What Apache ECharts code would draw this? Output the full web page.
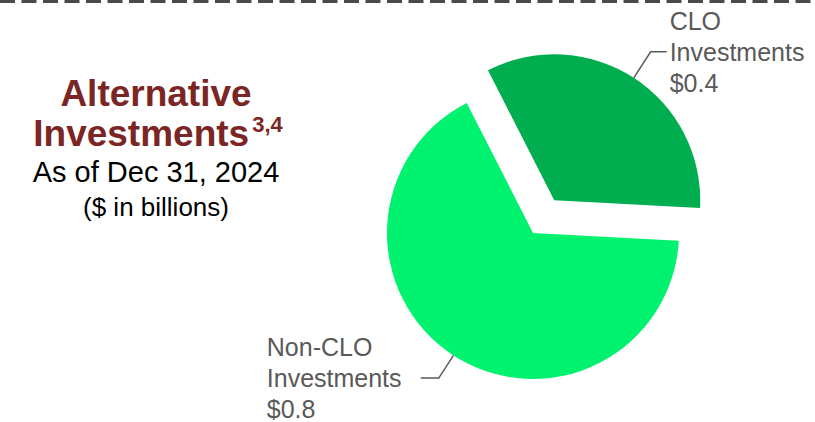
<!DOCTYPE html>
<html>
<head>
<meta charset="utf-8">
<script src="https://cdn.jsdelivr.net/npm/echarts@6/dist/echarts.min.js"></script>
<style>
  html, body { margin: 0; padding: 0; background: #fff; }
  #pieChart { width: 815px; height: 422px; }
</style>
</head>
<body>
<div id="pieChart"></div>
<script>
// data
const categories = ['CLO\nInvestments', 'Non-CLO\nInvestments']
const values = [0.4, 0.8]
const sliceColors = ['#00ae4f', '#00f26f']

const chart = echarts.init(document.getElementById('pieChart'), null, { renderer: 'svg' })

const titleFont = 'bold 37px "Liberation Sans", Arial'

const option = {
  animation: false,
  graphic: [
    {
      // dashed divider at the top
      type: 'line',
      shape: { x1: 0, y1: 1.5, x2: 815, y2: 1.5 },
      style: { stroke: '#4a4a4a', lineWidth: 3, lineDash: [15, 6.5] }
    },
    {
      type: 'text',
      x: 156,
      y: 93,
      style: {
        text: 'Alternative',
        align: 'center',
        verticalAlign: 'middle',
        font: titleFont,
        fill: '#7b2525'
      }
    },
    {
      // second title line with superscript footnote marks
      type: 'text',
      x: 158,
      y: 133,
      style: {
        text: '{t|Investments}{s|3,4}',
        align: 'center',
        verticalAlign: 'middle',
        rich: {
          t: { font: titleFont, fill: '#7b2525', lineHeight: 40 },
          s: { font: 'bold 22px "Liberation Sans", Arial', fill: '#7b2525', lineHeight: 22, verticalAlign: 'top', padding: [0, 0, 0, 3] }
        }
      }
    },
    {
      type: 'text',
      x: 156,
      y: 172,
      style: {
        text: 'As of Dec 31, 2024',
        align: 'center',
        verticalAlign: 'middle',
        font: '29px "Liberation Sans", Arial',
        fill: '#000'
      }
    },
    {
      type: 'text',
      x: 156,
      y: 207,
      style: {
        text: '($ in billions)',
        align: 'center',
        verticalAlign: 'middle',
        font: '26px "Liberation Sans", Arial',
        fill: '#000'
      }
    }
  ],
  series: [
    {
      type: 'pie',
      center: [533, 233],
      radius: 146,
      startAngle: 117,
      clockwise: true,
      selectedMode: 'multiple',
      selectedOffset: 39,
      label: {
        show: true,
        position: 'outside',
        color: '#595959',
        fontFamily: 'Liberation Sans, Arial',
        fontSize: 25,
        lineHeight: 31,
        distanceToLabelLine: 3
      },
      labelLine: {
        show: true,
        lineStyle: { color: '#595959', width: 1.5 }
      },
      emphasis: { disabled: true },
      data: categories.map((name, i) => ({
        name: name,
        value: values[i],
        selected: i === 0,
        itemStyle: { color: sliceColors[i] },
        label: {
          formatter: i === 0
            ? '{l|CLO}\n{l|Investments}\n{l|$' + values[i].toFixed(1) + '}'
            : '{l|Non-CLO}\n{l|Investments}\n{l|$' + values[i].toFixed(1) + '}',
          rich: {
            l: { width: 151, align: 'left', fontSize: 25, lineHeight: 31, color: '#595959', fontFamily: 'Liberation Sans, Arial' }
          }
        },
        labelLine: i === 0 ? { length: 31, length2: 16 } : { length: 27, length2: 18 }
      }))
    }
  ]
}

chart.setOption(option)
</script>
</body>
</html>
